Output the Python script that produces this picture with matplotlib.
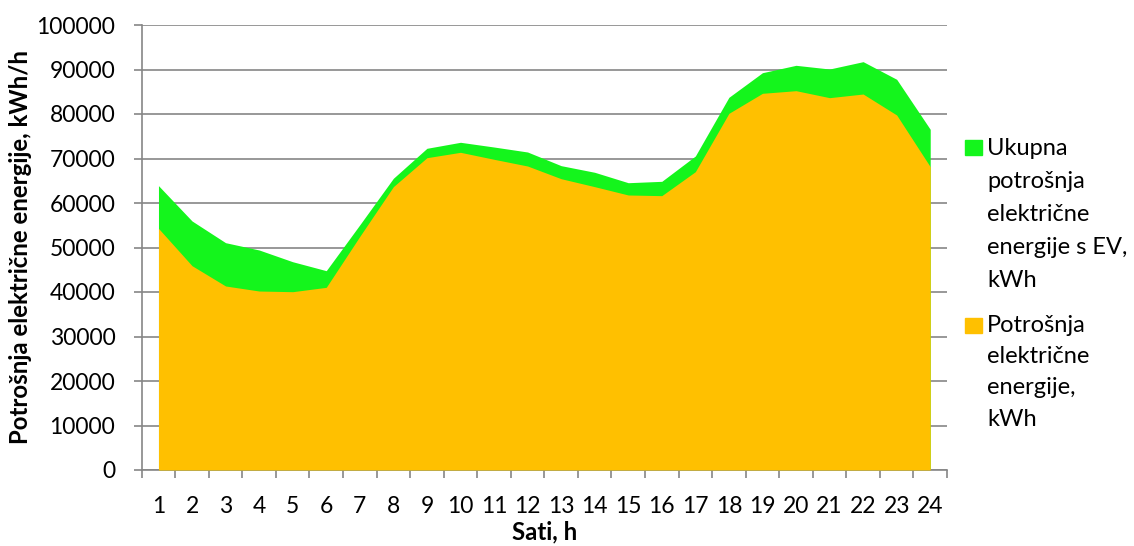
import matplotlib
matplotlib.use("Agg")
import matplotlib.pyplot as plt
from matplotlib.patches import Rectangle

plt.rcParams['font.family'] = ['Lato', 'DejaVu Sans']

hours = list(range(1, 25))
total_ev = [63900, 55960, 51080, 49440, 46800, 44790, 55100, 65550,
            72290, 73640, 72580, 71460, 68390, 66900, 64560, 64870,
            70560, 83750, 89280, 90940, 90110, 91760, 87800, 76560]
base = [54300, 45910, 41350, 40220, 40070, 41050, 52500, 63670,
        70180, 71390, 69820, 68310, 65460, 63670, 61800, 61650,
        67040, 80150, 84650, 85240, 83670, 84490, 79780, 68160]
labels_total = ["Ukupna", "potrošnja", "električne", "energije s EV,", "kWh"]
labels_base = ["Potrošnja", "električne", "energije,", "kWh"]

green = '#14F51C'
orange = '#FFC000'
grid_c = '#868686'
W, H = 1134, 546
fs = 16.5

fig = plt.figure(figsize=(W / 100, H / 100), dpi=100)
ax = fig.add_axes([141.7 / W, 1 - 470 / H, (947 - 141.7) / W, 445 / H])

ax.fill_between(hours, 0, total_ev, color=green, lw=0, zorder=2)
ax.fill_between(hours, 0, base, color=orange, lw=0, zorder=3)

ax.set_xlim(0.5, 24.5)
ax.set_ylim(0, 100000)
ax.set_yticks(range(0, 100001, 10000))
ax.set_yticklabels([str(v) for v in range(0, 100001, 10000)])
ax.yaxis.grid(True, color=grid_c, lw=1.2, zorder=1)
ax.set_axisbelow(True)

# tick marks between categories, labels at category centres
ax.set_xticks([i + 0.5 for i in range(0, 25)])
ax.set_xticklabels([])
ax.set_xticks(hours, minor=True)
ax.set_xticklabels([str(h) for h in hours], minor=True)
ax.tick_params(axis='x', which='major', length=6, width=1.2, color=grid_c)
ax.tick_params(axis='x', which='minor', length=0, pad=18.5, labelsize=fs)
ax.tick_params(axis='y', length=6, width=1.2, color=grid_c, pad=13, labelsize=fs)

for s in ['top', 'right']:
    ax.spines[s].set_visible(False)
for s in ['left', 'bottom']:
    ax.spines[s].set_color(grid_c)
    ax.spines[s].set_linewidth(1.2)

ax.set_xlabel("Sati, h", fontsize=17.3, fontweight='bold', labelpad=3)
ax.set_ylabel("Potrošnja električne energije, kWh/h", fontsize=17.3,
              fontweight='bold', labelpad=3)

# legend drawn by hand to keep the wrapped Excel look
fig.patches.append(Rectangle((965 / W, 1 - 155 / H), 17 / W, 15 / H,
                             transform=fig.transFigure, color=green))
fig.patches.append(Rectangle((965 / W, 1 - 333 / H), 17 / W, 15 / H,
                             transform=fig.transFigure, color=orange))
for k, line in enumerate(labels_total):
    fig.text(987 / W, 1 - (155 + k * 32.9) / H, line, fontsize=17,
             va='baseline', ha='left')
for k, line in enumerate(labels_base):
    fig.text(987 / W, 1 - (331.7 + k * 31.4) / H, line, fontsize=17,
             va='baseline', ha='left')

fig.savefig("out.png", dpi=100)
